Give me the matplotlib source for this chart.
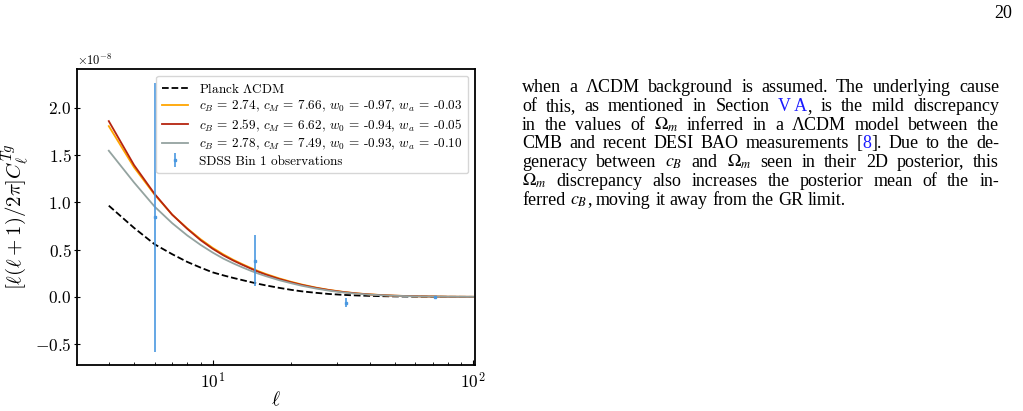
import matplotlib
matplotlib.use("Agg")
import matplotlib.pyplot as plt
import numpy as np

plt.rcParams['font.family'] = 'serif'
plt.rcParams['font.serif'] = ['cmr10']
plt.rcParams['mathtext.fontset'] = 'cm'
plt.rcParams['axes.formatter.use_mathtext'] = True
plt.rcParams['axes.unicode_minus'] = True

# multipoles of the theory curves
ell = [4, 5, 6, 7, 8, 9, 10, 11, 12, 13, 14, 15, 16, 18, 20, 22, 25, 28, 32,
       36, 40, 45, 50, 60, 70, 80, 100]
# values in units of 1e-8
planck = [0.965, 0.73, 0.556, 0.452, 0.37, 0.31, 0.26, 0.228, 0.201, 0.178,
          0.157, 0.138, 0.122, 0.096, 0.075, 0.059, 0.043, 0.031, 0.021,
          0.015, 0.011, 0.0075, 0.0052, 0.003, 0.0018, 0.001, 0.0004]
fit_a = [1.806, 1.37, 1.08, 0.87, 0.725, 0.61, 0.52, 0.45, 0.393, 0.347,
         0.307, 0.272, 0.243, 0.196, 0.16, 0.131, 0.098, 0.074, 0.052,
         0.037, 0.027, 0.019, 0.013, 0.007, 0.004, 0.002, 0.001]
fit_b = [1.859, 1.394, 1.088, 0.87, 0.72, 0.60, 0.51, 0.44, 0.385, 0.34,
         0.30, 0.265, 0.236, 0.19, 0.155, 0.127, 0.095, 0.072, 0.05,
         0.036, 0.026, 0.018, 0.013, 0.007, 0.004, 0.002, 0.001]
fit_c = [1.546, 1.21, 0.954, 0.78, 0.65, 0.55, 0.47, 0.405, 0.355, 0.313,
         0.277, 0.246, 0.22, 0.177, 0.145, 0.118, 0.088, 0.066, 0.046,
         0.033, 0.024, 0.017, 0.012, 0.006, 0.0035, 0.002, 0.001]

labels = ['Planck $\\Lambda$CDM',
          r'$c_B$ = 2.74, $c_M$ = 7.66, $w_0$ = -0.97, $w_a$ = -0.03',
          r'$c_B$ = 2.59, $c_M$ = 6.62, $w_0$ = -0.94, $w_a$ = -0.05',
          r'$c_B$ = 2.78, $c_M$ = 7.49, $w_0$ = -0.93, $w_a$ = -0.10',
          'SDSS Bin 1 observations']

# SDSS bandpowers
ell_obs = [6.0, 14.5, 32.5, 71.6]
cl_obs = [0.84, 0.384, -0.06, 0.0]
cl_err = [1.42, 0.27, 0.048, 0.005]

S = 1e-8

fig = plt.figure(figsize=(10.23, 4.11), dpi=100)
ax = fig.add_axes([0.0756, 0.1119, 0.3887, 0.7202])

ax.plot(ell, np.array(planck) * S, '--', color='black', lw=1.3, label=labels[0])
ax.plot(ell, np.array(fit_a) * S, color='#ffa500', lw=1.3, label=labels[1])
ax.plot(ell, np.array(fit_b) * S, color='#b5240f', lw=1.3, label=labels[2])
ax.plot(ell, np.array(fit_c) * S, color='#94a3a0', lw=1.3, label=labels[3])
ax.errorbar(ell_obs, np.array(cl_obs) * S, yerr=np.array(cl_err) * S, fmt='s',
            color='#4a98e0', ms=2, lw=1.2, label=labels[4])

ax.set_xscale('log')
ax.set_xlim(3.03, 101.5)
ax.set_ylim(-0.72e-8, 2.41e-8)
ax.set_yticks(np.array([-0.5, 0.0, 0.5, 1.0, 1.5, 2.0]) * S)
ax.tick_params(axis='both', labelsize=12.5)
ax.tick_params(axis='y', direction='inout', length=5, pad=1.5)
ax.tick_params(axis='x', which='both', direction='in', pad=4)
ax.yaxis.get_offset_text().set_fontsize(9)
for sp in ax.spines.values():
    sp.set_linewidth(1.3)

ax.set_xlabel(r'$\ell$', fontsize=14, labelpad=0)
ax.set_ylabel(r'$[\ell(\ell+1)/2\pi]C_\ell^{Tg}$', fontsize=15, labelpad=2)
ax.legend(loc='upper right', fontsize=9.5, labelspacing=0.25, borderpad=0.45)

# page text on the right, justified by hand
blue = '#1a1aff'
para = [
    [[('when', 'k')], [('a', 'k')], [('ΛCDM', 'k')], [('background', 'k')], [('is', 'k')],
     [('assumed.', 'k')], [('The', 'k')], [('underlying', 'k')], [('cause', 'k')]],
    [[('of', 'k')], [('this,', 'k')], [('as', 'k')], [('mentioned', 'k')], [('in', 'k')],
     [('Section', 'k')], [('V A', blue), (',', 'k')], [('is', 'k')], [('the', 'k')],
     [('mild', 'k')], [('discrepancy', 'k')]],
    [[('in', 'k')], [('the', 'k')], [('values', 'k')], [('of', 'k')], [(r'$\Omega_m$', 'k')],
     [('inferred', 'k')], [('in', 'k')], [('a', 'k')], [('ΛCDM', 'k')], [('model', 'k')],
     [('between', 'k')], [('the', 'k')]],
    [[('CMB', 'k')], [('and', 'k')], [('recent', 'k')], [('DESI', 'k')], [('BAO', 'k')],
     [('measurements', 'k')], [('[', 'k'), ('8', blue), (']', 'k'), ('.', 'k')], [('Due', 'k')],
     [('to', 'k')], [('the', 'k')], [('de-', 'k')]],
    [[('generacy', 'k')], [('between', 'k')], [(r'$c_B$', 'k')], [('and', 'k')],
     [(r'$\Omega_m$', 'k')], [('seen', 'k')], [('in', 'k')], [('their', 'k')], [('2D', 'k')],
     [('posterior,', 'k')], [('this', 'k')]],
    [[(r'$\Omega_m$', 'k')], [('discrepancy', 'k')], [('also', 'k')], [('increases', 'k')],
     [('the', 'k')], [('posterior', 'k')], [('mean', 'k')], [('of', 'k')], [('the', 'k')],
     [('in-', 'k')]],
    [[('ferred', 'k')], [(r'$c_B$', 'k'), (',', 'k')], [('moving', 'k')], [('it', 'k')],
     [('away', 'k')], [('from', 'k')], [('the', 'k')], [('GR', 'k')], [('limit.', 'k')]],
]

W, H = 1023, 411
x0, x1 = 522.0, 999.0
y_first = 92.0
lead = 18.75
fs = 13.0
renderer = fig.canvas.get_renderer()

for i, line in enumerate(para):
    y = 1 - (y_first + i * lead) / H
    words = []
    for word in line:
        pieces = []
        for s, c in word:
            t = fig.text(0, y, s, fontsize=fs, color=c, family='Liberation Serif',
                         math_fontfamily='stix', va='baseline', ha='left')
            w = t.get_window_extent(renderer).width
            pieces.append((t, w))
        words.append(pieces)
    widths = [sum(w for _, w in p) for p in words]
    if i < len(para) - 1:
        gap = (x1 - x0 - sum(widths)) / (len(words) - 1)
    else:
        gap = 4.5
    x = x0
    for p in words:
        for t, w in p:
            t.set_x(x / W)
            x += w
        x += gap

fig.text(1012.0 / W, 1 - 18 / H, '20', fontsize=fs, family='Liberation Serif',
         ha='right', va='baseline')

fig.savefig('out.png', dpi=100)
